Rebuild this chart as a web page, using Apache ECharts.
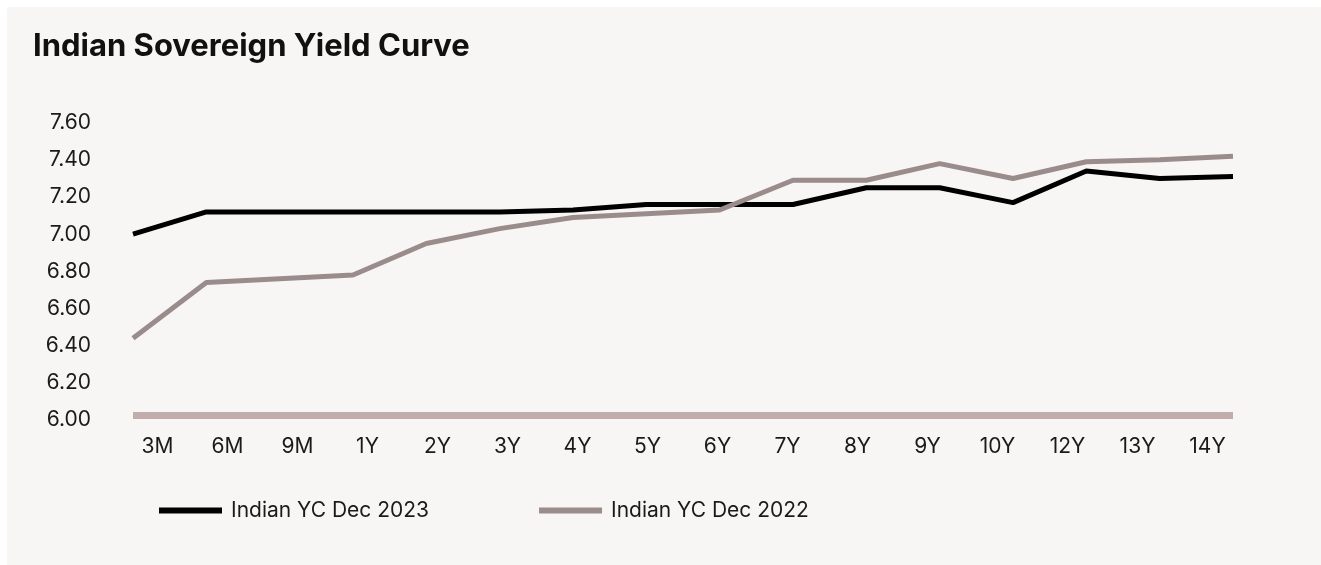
<!DOCTYPE html>
<html>
<head>
<meta charset="utf-8">
<title>Indian Sovereign Yield Curve</title>
<script src="https://cdn.jsdelivr.net/npm/echarts@6/dist/echarts.min.js"></script>
<style>
  html, body { margin: 0; padding: 0; background: #ffffff; }
  #chart { width: 1321px; height: 565px; }
</style>
</head>
<body>
<div id="chart"></div>
<script>
// Tenors along the curve
const tenors = ['3M', '6M', '9M', '1Y', '2Y', '3Y', '4Y', '5Y', '6Y', '7Y', '8Y', '9Y', '10Y', '12Y', '13Y', '14Y'];

// Yields (%) for each tenor
const yieldsDec2023 = [7.00, 7.12, 7.12, 7.12, 7.12, 7.12, 7.13, 7.16, 7.16, 7.16, 7.25, 7.25, 7.17, 7.34, 7.30, 7.31];
const yieldsDec2022 = [6.44, 6.74, 6.76, 6.78, 6.95, 7.03, 7.09, 7.11, 7.13, 7.29, 7.29, 7.38, 7.30, 7.39, 7.40, 7.42];

const seriesNames = ['Indian YC Dec 2023', 'Indian YC Dec 2022'];

// Value axis range
const yMin = 6.0;
const yMax = 7.6;
const yStep = 0.2;

const FONT = 'Inter, "Noto Sans", sans-serif';

const chart = echarts.init(document.getElementById('chart'), null, { renderer: 'canvas' });

chart.setOption({
  backgroundColor: '#ffffff',
  animation: false,
  graphic: [{
    type: 'rect',
    z: -100,
    silent: true,
    shape: { x: 7, y: 7, width: 1314, height: 558 },
    style: { fill: '#f7f6f4' }
  }],
  title: {
    text: 'Indian Sovereign Yield Curve',
    left: 33,
    top: 31,
    padding: 0,
    textStyle: { fontFamily: FONT, fontSize: 31, fontWeight: 'bold', color: '#111111' }
  },
  legend: {
    left: 159,
    top: 500,
    padding: 0,
    itemWidth: 63,
    itemHeight: 6,
    itemGap: 110,
    icon: 'rect',
    data: seriesNames,
    textStyle: { fontFamily: FONT, fontSize: 21, color: '#1a1a1a', padding: [0, 0, 0, 4] }
  },
  grid: [
    // plotting grid: points run edge to edge
    { left: 133, right: 88, top: 122.7, bottom: 145, containLabel: false },
    // category-label grid: labels sit in the band centres
    { left: 122.5, right: 78.5, top: 122.7, bottom: 145, containLabel: false }
  ],
  xAxis: [
    {
      type: 'category',
      gridIndex: 0,
      data: tenors,
      boundaryGap: false,
      offset: -4.5,
      axisLine: { show: true, lineStyle: { color: '#c2adad', width: 7, cap: 'butt' } },
      axisTick: { show: false },
      axisLabel: { show: false },
      splitLine: { show: false }
    },
    {
      type: 'category',
      gridIndex: 1,
      data: tenors,
      boundaryGap: true,
      axisLine: { show: false },
      axisTick: { show: false },
      axisLabel: { show: true, margin: 16, fontFamily: FONT, fontSize: 21, color: '#1a1a1a', interval: 0 },
      splitLine: { show: false }
    }
  ],
  yAxis: [
    {
      type: 'value',
      gridIndex: 0,
      min: yMin,
      max: yMax,
      interval: yStep,
      axisLine: { show: false },
      axisTick: { show: false },
      splitLine: { show: false },
      axisLabel: {
        margin: 42,
        fontFamily: FONT,
        fontSize: 21,
        color: '#1a1a1a',
        formatter: v => v.toFixed(2)
      }
    },
    {
      type: 'value',
      gridIndex: 1,
      min: yMin,
      max: yMax,
      show: false
    }
  ],
  series: [
    {
      name: seriesNames[0],
      type: 'line',
      xAxisIndex: 0,
      yAxisIndex: 0,
      data: yieldsDec2023,
      symbol: 'none',
      color: '#000000',
      lineStyle: { color: '#000000', width: 5 }
    },
    {
      name: seriesNames[1],
      type: 'line',
      xAxisIndex: 0,
      yAxisIndex: 0,
      data: yieldsDec2022,
      symbol: 'none',
      color: '#9b8c8c',
      lineStyle: { color: '#9b8c8c', width: 5 }
    }
  ]
});
</script>
</body>
</html>
